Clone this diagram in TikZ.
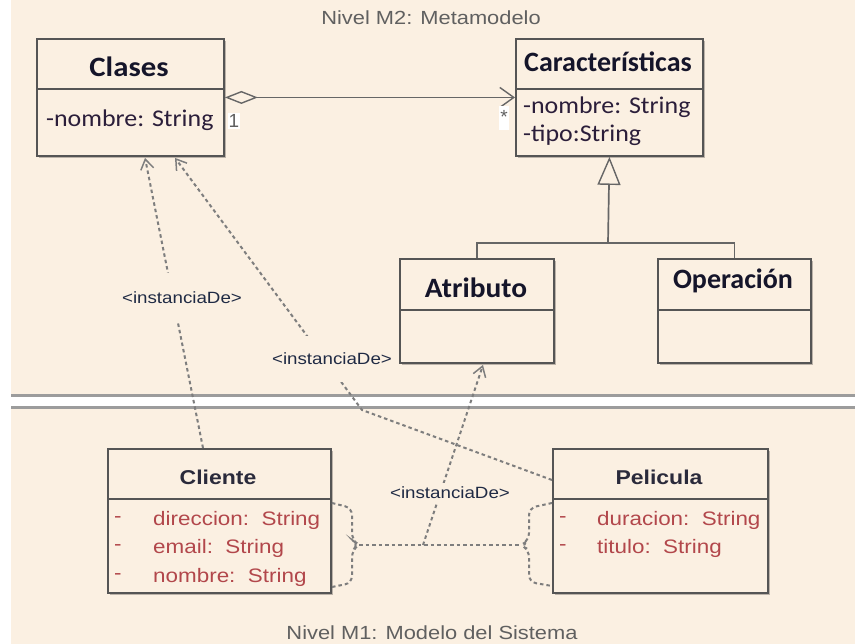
\documentclass[tikz,border=0pt]{standalone}
\usepackage{fontspec}
\newfontfamily\calfont{Carlito}
\newfontfamily\arifont{Liberation Sans}
\usetikzlibrary{arrows.meta,shadows,calc}
\definecolor{cream}{HTML}{FBF0E2}
\definecolor{boxline}{HTML}{555555}
\definecolor{ttlcol}{HTML}{15152A}
\definecolor{attrcol}{HTML}{2B1E3A}
\definecolor{redattr}{HTML}{B2474B}
\definecolor{levelgray}{HTML}{606060}
\definecolor{depgray}{HTML}{7E7E7E}
\definecolor{assocgray}{HTML}{666666}
\definecolor{lblcol}{HTML}{1F2A44}
\definecolor{sepgray}{HTML}{9C9C9C}
\newcommand\hsc[2][1.15]{\scalebox{#1}[1]{#2}}
\begin{document}
\begin{tikzpicture}[x=1pt,y=-1pt,
  umlbox/.style={draw=boxline, line width=1.9pt, fill=cream, anchor=north west, inner sep=0pt,
    drop shadow={shadow xshift=2.5pt, shadow yshift=-2.5pt, fill=black, opacity=.25}},
  divider/.style={draw=boxline, line width=1.6pt},
  ttl/.style={font=\calfont\bfseries\fontsize{28pt}{30pt}\selectfont, text=ttlcol, inner sep=0pt},
  cattr/.style={font=\calfont\fontsize{24pt}{26pt}\selectfont, text=attrcol, inner sep=0pt, anchor=west},
  attl/.style={font=\arifont\bfseries\fontsize{20pt}{22pt}\selectfont, text=ttlcol!80!gray, inner sep=0pt},
  rattr/.style={font=\arifont\fontsize{19.5pt}{21pt}\selectfont, text=redattr, inner sep=0pt, anchor=west},
  lvl/.style={font=\arifont\fontsize{19pt}{21pt}\selectfont, text=levelgray, inner sep=0pt},
  lbl/.style={font=\arifont\fontsize{16.3pt}{18pt}\selectfont, text=lblcol, fill=cream, inner xsep=2pt},
  dep/.style={draw=depgray, line width=2pt, dash pattern=on 3.5pt off 3pt},
  deparrow/.style={dep, -{Straight Barb[length=10pt,width=13pt,line width=1.5pt]}},
  assoc/.style={draw=assocgray, line width=1.7pt},
  mult/.style={font=\arifont\fontsize{19pt}{20pt}\selectfont, text=levelgray, fill=white, inner sep=1pt}
]
% background
\fill[white] (0,0) rectangle (855,644);
\useasboundingbox (0,0) rectangle (855,644);
\fill[cream] (11,0) rectangle (855,644);

% separator
\fill[white] (11,397) rectangle (855,406);
\draw[draw=sepgray, line width=2.6pt] (11,395.5) -- (855,395.5);
\draw[draw=sepgray, line width=2.6pt] (11,407.5) -- (855,407.5);

% level labels
\node[lvl] (lvlM2) at (431,18) {\hsc{Nivel M2: Metamodelo}};
\node[lvl] (lvlM1) at (432,633) {\hsc{Nivel M1: Modelo del Sistema}};

% M2 boxes
\node[umlbox, minimum width=187pt, minimum height=117pt] (clases) at (36,38) {};
\draw[divider] ($(clases.north west)+(0,51)$) -- ($(clases.north east)+(0,51)$);
\node[ttl] (tclases) at (129,67) {\hsc[1.1]{Clases}};
\node[cattr] (aclases) at (46,120) {\hsc[1.08]{-nombre: String}};

\node[umlbox, minimum width=187pt, minimum height=117pt] (carac) at (515,38) {};
\draw[divider] ($(carac.north west)+(0,51)$) -- ($(carac.north east)+(0,51)$);
\node[ttl] (tcarac) at (608,62) {Características};
\node[cattr] (acarac1) at (523,107) {\hsc[1.08]{-nombre: String}};
\node[cattr] (acarac2) at (523,135) {\hsc[1.08]{-tipo:String}};

\node[umlbox, minimum width=154pt, minimum height=104pt] (atrib) at (399,258) {};
\draw[divider] ($(atrib.north west)+(0,52)$) -- ($(atrib.north east)+(0,52)$);
\node[ttl] (tatrib) at (476,288) {\hsc[1.05]{Atributo}};

\node[umlbox, minimum width=153pt, minimum height=104pt] (oper) at (657,258) {};
\draw[divider] ($(oper.north west)+(0,52)$) -- ($(oper.north east)+(0,52)$);
\node[ttl] (toper) at (733,281) {Operación};

% aggregation
\draw[assoc, {Diamond[length=33pt,width=13pt,fill=cream,line width=1.4pt]}-{Straight Barb[length=14pt,width=20pt,line width=1.4pt]}] (clases.east) -- (carac.west);
\node[mult] (m1) at (234,121) {1};
\node[mult, inner ysep=4pt] (m2) at (504,118) {\raisebox{3pt}{*}};

% generalization
\coordinate (genbar) at (608,243);
\draw[assoc] (atrib.north) |- (genbar) -| (oper.north);
\draw[assoc, -{Triangle[length=28pt,width=23pt,fill=cream,line width=1.4pt]}] (genbar) -- (carac.south);

% M1 boxes
\node[umlbox, minimum width=223pt, minimum height=144pt] (cliente) at (107,448) {};
\draw[divider] ($(cliente.north west)+(0,51)$) -- ($(cliente.north east)+(0,51)$);
\node[attl] (tcliente) at (218,477) {\hsc{Cliente}};
\node[rattr] (dc1) at (114,520) {\hsc{-}};
\node[rattr] (ac1) at (153,520) {\hsc{direccion:\ \ String}};
\node[rattr] (dc2) at (114,548) {\hsc{-}};
\node[rattr] (ac2) at (153,548) {\hsc{email:\ \ String}};
\node[rattr] (dc3) at (114,577) {\hsc{-}};
\node[rattr] (ac3) at (153,577) {\hsc{nombre:\ \ String}};

\node[umlbox, minimum width=215pt, minimum height=144pt] (pelicula) at (552,448) {};
\draw[divider] ($(pelicula.north west)+(0,51)$) -- ($(pelicula.north east)+(0,51)$);
\node[attl] (tpelicula) at (659,477) {\hsc{Pelicula}};
\node[rattr] (dp1) at (559,520) {\hsc{-}};
\node[rattr] (ap1) at (597,520) {\hsc{duracion:\ \ String}};
\node[rattr] (dp2) at (559,548) {\hsc{-}};
\node[rattr] (ap2) at (597,548) {\hsc{titulo:\ \ String}};

% brackets and association class link
\coordinate (lbtip) at (359,545);
\coordinate (rbtip) at (521,545);
\coordinate (midlink) at (423,545);
\draw[dep, rounded corners=7pt] ($(cliente.north east)+(0,55)$) -- (352,508) -- (352,540) -- (lbtip) -- (352,550) -- (352,583) -- ($(cliente.north east)+(0,139)$);
\draw[dep, rounded corners=7pt] ($(pelicula.north west)+(0,55)$) -- (529,508) -- (529,540) -- (rbtip) -- (529,550) -- (529,582) -- ($(pelicula.north west)+(0,138)$);
\draw[dep] (lbtip) -- (rbtip);

% instanciaDe dependencies
\draw[deparrow] ($(cliente.north west)+(96,0)$) -- ($(clases.south west)+(109,1)$);
\coordinate (bend2) at (362,410);
\draw[deparrow] ($(pelicula.north west)+(0,32)$) -- (bend2) -- ($(clases.south west)+(139,1)$);
\draw[deparrow] (midlink) -- ($(atrib.south west)+(84,1)$);

\node[lbl, inner ysep=19pt] (l1) at (182,298) {\hsc{<instanciaDe>}};
\node[lbl, inner ysep=17pt] (l2) at (332,359) {\hsc{<instanciaDe>}};
\node[lbl, inner ysep=4pt] (l3) at (450,493) {\hsc{<instanciaDe>}};
\end{tikzpicture}
\end{document}
